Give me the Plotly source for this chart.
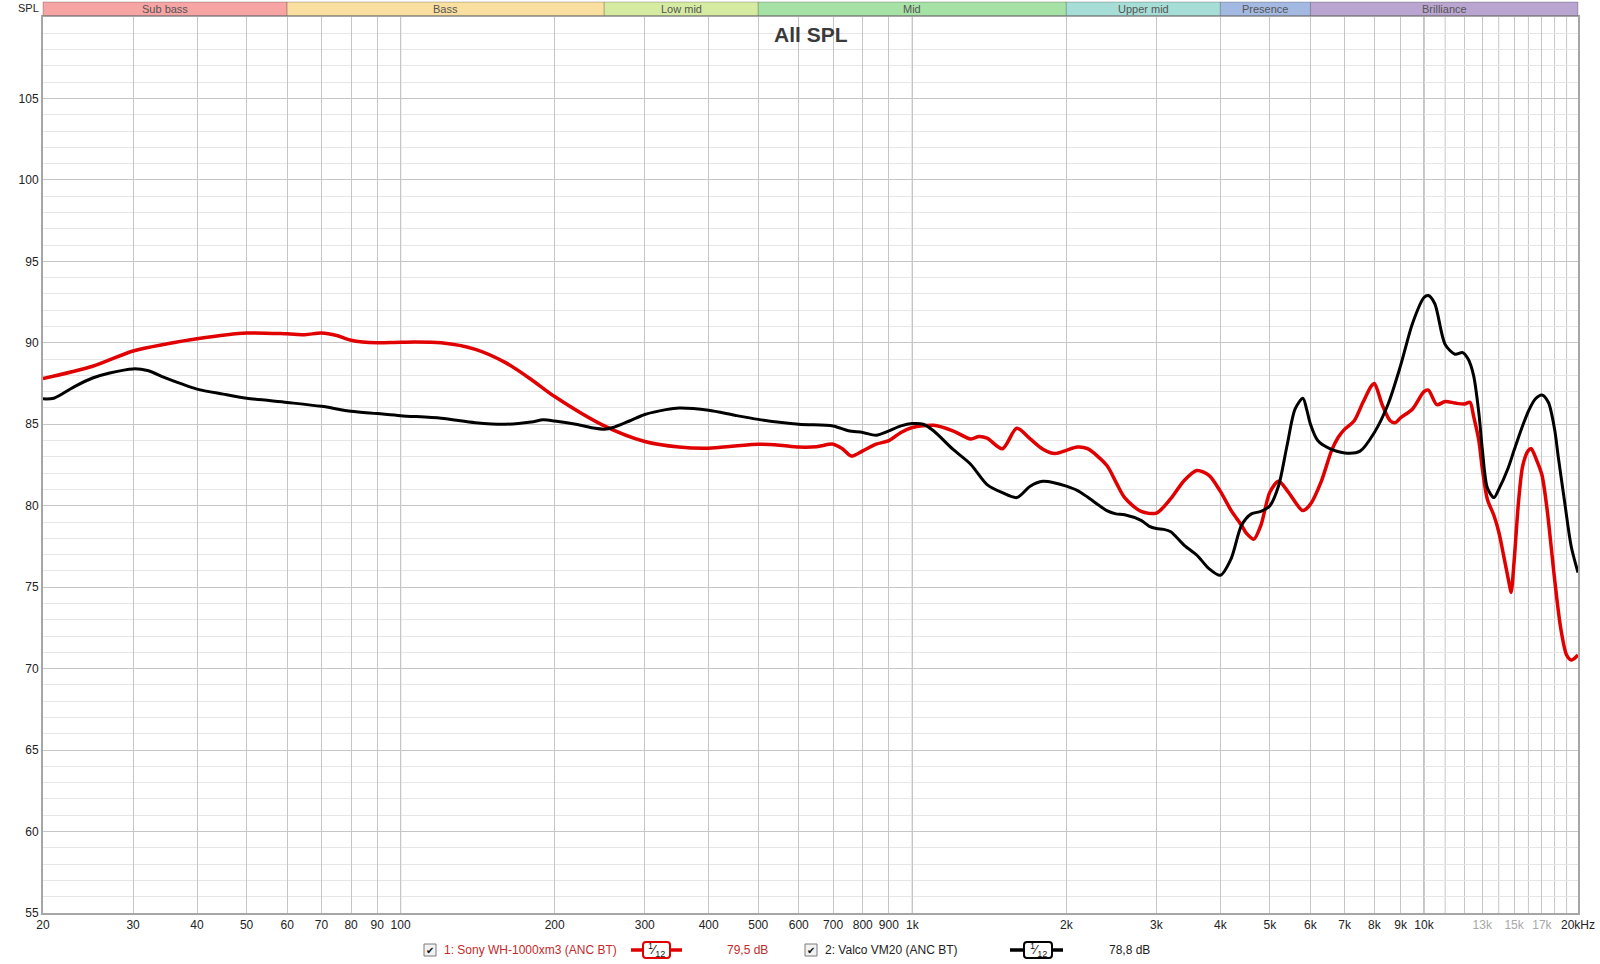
import math
import plotly.graph_objects as go

# ---------------- data ----------------
sony_freq = [20, 25, 30, 35, 40, 50, 60, 65, 70, 75, 80, 90, 100, 120, 140, 160, 180, 200, 250, 300,
             350, 400, 450, 500, 550, 600, 650, 700, 730, 760, 800, 850, 900, 950, 1000, 1100, 1200,
             1300, 1350, 1400, 1500, 1600, 1700, 1800, 1900, 2000, 2100, 2200, 2400, 2500, 2600, 2800,
             3000, 3200, 3400, 3600, 3800, 4000, 4200, 4400, 4500, 4650, 4800, 5000, 5200, 5400, 5700,
             5800, 6000, 6300, 6600, 6800, 7000, 7300, 7600, 7900, 8000, 8300, 8600, 8800, 9000, 9500,
             10000, 10200, 10600, 11000, 11500, 12000, 12300, 12500, 12800, 13000, 13300, 13700, 14000,
             14300, 14700, 14800, 15000, 15300, 15600, 16000, 16200, 16600, 17000, 17400, 18000, 18500,
             19000, 19400, 20000]
sony_db = [87.8, 88.56, 89.5, 89.94, 90.25, 90.6, 90.55, 90.5, 90.6, 90.45, 90.16, 90.0, 90.04, 90.0,
           89.6, 88.8, 87.75, 86.7, 84.9, 83.94, 83.6, 83.53, 83.67, 83.78, 83.72, 83.6, 83.62, 83.78,
           83.5, 83.05, 83.37, 83.78, 84.0, 84.5, 84.8, 84.94, 84.6, 84.1, 84.25, 84.15, 83.5, 84.75,
           84.1, 83.47, 83.2, 83.4, 83.6, 83.5, 82.47, 81.45, 80.5, 79.65, 79.55, 80.43, 81.55, 82.16,
           81.86, 80.88, 79.7, 78.8, 78.3, 77.95, 78.8, 80.84, 81.5, 80.94, 79.9, 79.7, 80.1, 81.5,
           83.4, 84.2, 84.7, 85.2, 86.35, 87.37, 87.5, 86.14, 85.2, 85.1, 85.4, 85.94, 87.0, 87.1,
           86.2, 86.4, 86.3, 86.24, 86.35, 85.5, 84.0, 82.3, 80.4, 79.4, 78.4, 77.0, 75.1, 74.67,
           76.55, 80.2, 82.47, 83.4, 83.5, 82.8, 81.9, 79.8, 75.5, 72.5, 70.84, 70.53, 70.84]

valco_freq = [20, 21, 23, 25, 27, 30, 32, 35, 40, 45, 50, 60, 70, 80, 90, 100, 120, 140, 160, 180, 190,
              200, 220, 240, 250, 260, 280, 300, 330, 350, 400, 450, 500, 600, 700, 750, 800, 850, 900,
              950, 1000, 1050, 1100, 1200, 1300, 1400, 1500, 1600, 1700, 1800, 1900, 2000, 2100, 2200,
              2400, 2500, 2600, 2800, 2900, 3000, 3100, 3200, 3400, 3600, 3800, 4000, 4200, 4400, 4600,
              4800, 5000, 5200, 5400, 5600, 5800, 5900, 6000, 6200, 6500, 7000, 7500, 8000, 8500, 9000,
              9500, 10000, 10200, 10500, 11000, 11500, 11900, 12200, 12500, 12800, 13000, 13300, 13700,
              14000, 14600, 15000, 15500, 16000, 16500, 17000, 17500, 18000, 18300, 18800, 19400, 20000]
valco_db = [86.56, 86.6, 87.3, 87.84, 88.15, 88.4, 88.3, 87.8, 87.16, 86.85, 86.6, 86.34, 86.1, 85.8,
            85.66, 85.53, 85.37, 85.1, 85.0, 85.14, 85.27, 85.2, 85.0, 84.75, 84.7, 84.8, 85.2, 85.6,
            85.9, 86.0, 85.86, 85.55, 85.3, 85.0, 84.9, 84.6, 84.5, 84.33, 84.6, 84.9, 85.04, 85.0,
            84.6, 83.47, 82.55, 81.3, 80.8, 80.5, 81.2, 81.5, 81.4, 81.2, 80.94, 80.53, 79.7, 79.5,
            79.45, 79.1, 78.75, 78.6, 78.55, 78.4, 77.57, 76.96, 76.14, 75.73, 76.76, 78.8, 79.5, 79.65,
            80.0, 81.24, 83.7, 85.94, 86.6, 85.9, 85.0, 84.0, 83.55, 83.24, 83.35, 84.5, 86.2, 88.6,
            91.2, 92.78, 92.9, 92.4, 89.9, 89.3, 89.4, 89.0, 88.0, 85.7, 83.5, 81.1, 80.5, 81.0, 82.3,
            83.4, 84.7, 85.8, 86.55, 86.8, 86.35, 84.7, 83.0, 80.4, 77.5, 75.9]

tick_freqs = [20, 30, 40, 50, 60, 70, 80, 90, 100, 200, 300, 400, 500, 600, 700, 800, 900, 1000,
              2000, 3000, 4000, 5000, 6000, 7000, 8000, 9000, 10000, 13000, 15000, 17000, 20000]
tick_labels = ["20", "30", "40", "50", "60", "70", "80", "90", "100", "200", "300", "400", "500", "600",
               "700", "800", "900", "1k", "2k", "3k", "4k", "5k", "6k", "7k", "8k", "9k", "10k",
               "<span style='color:#a8a8a8'>13k</span>", "<span style='color:#a8a8a8'>15k</span>",
               "<span style='color:#a8a8a8'>17k</span>", "20kHz"]
extra_grid_freqs = [11000, 12000, 14000, 16000, 18000, 19000]
decade_freqs = [100, 1000, 10000]

y_ticks = [55, 60, 65, 70, 75, 80, 85, 90, 95, 100, 105]

band_names = ["Sub bass", "Bass", "Low mid", "Mid", "Upper mid", "Presence", "Brilliance"]
band_edges = [20, 60, 250, 500, 2000, 4000, 6000, 20000]
band_colors = ["#F6A4A4", "#F9DFA0", "#D6EBA2", "#A6E1A6", "#A6DDD6", "#A4B9E2", "#BAA5D0"]

legend_names = ["1: Sony WH-1000xm3 (ANC BT)", "2: Valco VM20 (ANC BT)"]
legend_levels = ["79,5 dB", "78,8 dB"]

# ---------------- layout geometry ----------------
W, H = 1600, 964
L, R, T, B = 43, 22, 17, 51
PW, PH = W - L - R, H - T - B
FMIN, FMAX = 20, 20000
FONT = "Liberation Sans Narrow, Arial Narrow, Liberation Sans, Arial, sans-serif"


def px2x(px):
    return (px - L) / PW


def px2y(py):
    return (H - B - py) / PH


def f2x(f):
    return math.log10(f / FMIN) / math.log10(FMAX / FMIN)


RED = "#E00000"
BLACK = "#000000"

fig = go.Figure()
fig.add_trace(go.Scatter(x=sony_freq, y=sony_db, mode="lines",
                         line=dict(color=RED, width=3.5, shape="spline", smoothing=0.8),
                         name=legend_names[0], hoverinfo="x+y"))
fig.add_trace(go.Scatter(x=valco_freq, y=valco_db, mode="lines",
                         line=dict(color=BLACK, width=3, shape="spline", smoothing=0.8),
                         name=legend_names[1], hoverinfo="x+y"))

shapes = []
annotations = []

for f in extra_grid_freqs:
    shapes.append(dict(type="line", xref="paper", yref="paper", x0=f2x(f), x1=f2x(f), y0=0, y1=1,
                       line=dict(color="#C6C6C6", width=1), layer="below"))
# decade lines (darker)
for f in decade_freqs:
    shapes.append(dict(type="line", xref="paper", yref="paper", x0=f2x(f), x1=f2x(f), y0=0, y1=1,
                       line=dict(color="#8E8E8E", width=1), layer="below"))

# frequency bands on top
by0, by1 = px2y(15.5), px2y(2)
for name, c, a, b in zip(band_names, band_colors, band_edges[:-1], band_edges[1:]):
    shapes.append(dict(type="rect", xref="paper", yref="paper", x0=f2x(a), x1=f2x(b), y0=by0, y1=by1,
                       fillcolor=c, line=dict(color="rgba(0,0,0,0.22)", width=1), layer="above"))
    annotations.append(dict(xref="paper", yref="paper", x=(f2x(a) + f2x(b)) / 2, y=(by0 + by1) / 2,
                            text=name, showarrow=False, xanchor="center", yanchor="middle",
                            font=dict(family=FONT, size=11, color="#555555")))

annotations.append(dict(xref="paper", yref="paper", x=px2x(28), y=px2y(8.5), text="SPL", showarrow=False,
                        xanchor="center", yanchor="middle", font=dict(family=FONT, size=11, color="#222222")))

annotations.append(dict(xref="paper", yref="paper", x=0.5, y=px2y(34), text="<b>All SPL</b>", showarrow=False,
                        xanchor="center", yanchor="middle",
                        font=dict(family="Liberation Sans, Arial, sans-serif", size=21, color="#3a3a3a")))

# legend (bottom, drawn manually)
LY = 950
legend_items = [
    dict(box=430, text_x=442, col_text="#C42A2A", col=RED, line=(631, 682), sym=(643, 670), lvl=747),
    dict(box=811, text_x=823, col_text="#222222", col=BLACK, line=(1010, 1063), sym=(1024, 1052), lvl=1129),
]
for item, name, lvl in zip(legend_items, legend_names, legend_levels):
    bx = item["box"]
    shapes.append(dict(type="rect", xref="paper", yref="paper", x0=px2x(bx - 6), x1=px2x(bx + 6),
                       y0=px2y(LY + 6), y1=px2y(LY - 6), fillcolor="#F2F2F2",
                       line=dict(color="#7A7A7A", width=1), layer="above"))
    annotations.append(dict(xref="paper", yref="paper", x=px2x(bx), y=px2y(LY), text="✔", showarrow=False,
                            xanchor="center", yanchor="middle",
                            font=dict(family="DejaVu Sans", size=10, color="#111111")))
    annotations.append(dict(xref="paper", yref="paper", x=px2x(item["text_x"]), y=px2y(LY), text=name,
                            showarrow=False, xanchor="left", yanchor="middle",
                            font=dict(family=FONT, size=12, color=item["col_text"])))
    l0, l1 = item["line"]
    shapes.append(dict(type="line", xref="paper", yref="paper", x0=px2x(l0), x1=px2x(l1),
                       y0=px2y(LY), y1=px2y(LY), line=dict(color=item["col"], width=3.5), layer="above"))
    s0, s1 = item["sym"]
    xa, xb = px2x(s0), px2x(s1)
    ya, yb = px2y(LY + 8), px2y(LY - 8)
    rx, ry = 3 / PW, 3 / PH
    path = (f"M {xa+rx} {ya} L {xb-rx} {ya} Q {xb} {ya} {xb} {ya+ry} L {xb} {yb-ry} Q {xb} {yb} {xb-rx} {yb} "
            f"L {xa+rx} {yb} Q {xa} {yb} {xa} {yb-ry} L {xa} {ya+ry} Q {xa} {ya} {xa+rx} {ya} Z")
    shapes.append(dict(type="path", xref="paper", yref="paper", path=path, fillcolor="#FFFFFF",
                       line=dict(color=item["col"], width=2), layer="above"))
    annotations.append(dict(xref="paper", yref="paper", x=(xa + xb) / 2, y=px2y(LY), text="<sup>1</sup>⁄<sub>12</sub>",
                            showarrow=False, xanchor="center", yanchor="middle",
                            font=dict(family="Liberation Sans, Arial, sans-serif", size=13, color="#111111")))
    annotations.append(dict(xref="paper", yref="paper", x=px2x(item["lvl"]), y=px2y(LY), text=lvl,
                            showarrow=False, xanchor="center", yanchor="middle",
                            font=dict(family=FONT, size=12, color=item["col_text"])))

fig.update_layout(
    width=W, height=H,
    margin=dict(l=L, r=R, t=T, b=B, pad=0, autoexpand=False),
    paper_bgcolor="#FFFFFF", plot_bgcolor="#FFFFFF",
    showlegend=False,
    shapes=shapes, annotations=annotations,
    font=dict(family=FONT, size=12, color="#222222"),
    xaxis=dict(type="log", range=[math.log10(FMIN), math.log10(FMAX)], automargin=False,
               tickmode="array", tickvals=tick_freqs, ticktext=tick_labels,
               showgrid=True, gridcolor="#C6C6C6", gridwidth=1, zeroline=False,
               ticks="", showline=True, mirror=True, linecolor="#A6A6A6", linewidth=2,
               tickfont=dict(family=FONT, size=12, color="#222222"), fixedrange=True),
    yaxis=dict(range=[55, 110], tickmode="array", tickvals=y_ticks, automargin=False,
               showgrid=True, gridcolor="#C6C6C6", gridwidth=1, zeroline=False,
               ticks="", showline=True, mirror=True, linecolor="#A6A6A6", linewidth=2,
               tickfont=dict(family=FONT, size=12, color="#222222"),
               minor=dict(tickmode="linear", tick0=55, dtick=1, showgrid=True, gridcolor="#E6E6E6",
                          ticks=""), fixedrange=True),
)

fig.write_html("out.html", config={"displayModeBar": False},
               post_script="document.body.style.margin='0';document.body.style.overflow='hidden';")
